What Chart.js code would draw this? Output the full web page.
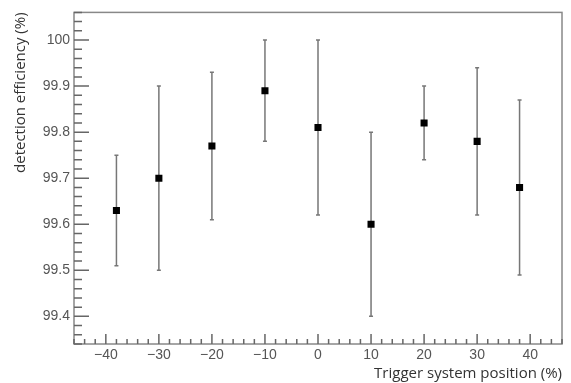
<!DOCTYPE html>
<html lang="en">
<head>
  <meta charset="UTF-8">
  <title>Detection efficiency vs trigger position</title>
  <script src="https://cdn.jsdelivr.net/npm/chart.js"></script>
  <style>
    html, body { margin: 0; padding: 0; background: #fff; }
    #wrap { width: 571px; height: 383px; }
  </style>
</head>
<body>
<div id="wrap"><canvas id="chart" width="571" height="383"></canvas></div>
<script>
// values
const positions  = [-38, -30, -20, -10, 0, 10, 20, 30, 38];
const efficiency = [99.63, 99.70, 99.77, 99.89, 99.81, 99.60, 99.82, 99.78, 99.68];
const errLow     = [99.51, 99.50, 99.61, 99.78, 99.62, 99.40, 99.74, 99.62, 99.49];
const errHigh    = [99.75, 99.90, 99.93, 100.00, 100.00, 99.80, 99.90, 99.94, 99.87];

const xTicks = [-40, -30, -20, -10, 0, 10, 20, 30, 40];
const yTicks = [99.4, 99.5, 99.6, 99.7, 99.8, 99.9, 100];

const frameColor = '#888';
const tickFont = { family: "'Liberation Sans', Arial, sans-serif", size: 14 };
const titleFont = { family: "'Open Sans', sans-serif", size: 15 };

// error bars, inward tick marks and the box around the plot
const decor = {
  id: 'decor',
  beforeDatasetsDraw(chart) {
    const ctx = chart.ctx, xs = chart.scales.x, ys = chart.scales.y;
    ctx.save();
    ctx.strokeStyle = '#777';
    ctx.lineWidth = 1.5;
    positions.forEach((p, i) => {
      const px = xs.getPixelForValue(p);
      const top = ys.getPixelForValue(errHigh[i]);
      const bot = ys.getPixelForValue(errLow[i]);
      ctx.beginPath();
      ctx.moveTo(px, top); ctx.lineTo(px, bot);
      ctx.moveTo(px - 2, top); ctx.lineTo(px + 2, top);
      ctx.moveTo(px - 2, bot); ctx.lineTo(px + 2, bot);
      ctx.stroke();
    });
    ctx.restore();
  },
  afterDraw(chart) {
    const ctx = chart.ctx, a = chart.chartArea;
    const xs = chart.scales.x, ys = chart.scales.y;
    ctx.save();
    ctx.strokeStyle = frameColor;
    ctx.lineWidth = 1.5;
    ctx.strokeRect(a.left, a.top, a.right - a.left, a.bottom - a.top);

    ctx.strokeStyle = '#666';
    ctx.beginPath();
    // x: major every 10, minor every 2
    for (let n = Math.ceil(xs.min / 2) * 2; n <= xs.max; n += 2) {
      const px = xs.getPixelForValue(n);
      const len = (n % 10 === 0) ? 10 : 5;
      ctx.moveTo(px, a.bottom); ctx.lineTo(px, a.bottom - len);
    }
    // y: major every 0.1, minor every 0.02
    const start = Math.ceil(ys.min / 0.02);
    const end = Math.floor(ys.max / 0.02);
    for (let k = start; k <= end; k++) {
      const py = ys.getPixelForValue(k * 0.02);
      const len = (k % 5 === 0) ? 15 : 8;
      ctx.moveTo(a.left, py); ctx.lineTo(a.left + len, py);
    }
    ctx.stroke();
    ctx.restore();
  }
};

new Chart(document.getElementById('chart'), {
  type: 'scatter',
  data: {
    datasets: [{
      data: positions.map((p, i) => ({ x: p, y: efficiency[i] })),
      pointStyle: 'rect',
      pointRadius: 5,
      pointHoverRadius: 5,
      backgroundColor: '#000',
      borderColor: '#000',
      borderWidth: 0
    }]
  },
  options: {
    responsive: false,
    animation: false,
    events: [],
    layout: { padding: { top: 11, right: 9, left: 0, bottom: 0 } },
    plugins: { legend: { display: false }, tooltip: { enabled: false } },
    scales: {
      x: {
        type: 'linear',
        min: -46,
        max: 46,
        afterBuildTicks: s => { s.ticks = xTicks.map(v => ({ value: v })); },
        afterFit: s => { s.height = 39; },
        grid: { display: false, drawTicks: false },
        border: { display: false },
        ticks: {
          font: tickFont, color: '#555', padding: 3, maxRotation: 0, autoSkip: false,
          callback: v => String(v).replace('-', '\u2212')
        },
        title: {
          display: true,
          text: 'Trigger system position (%)',
          align: 'end',
          color: '#333',
          font: titleFont,
          padding: { top: 0, bottom: 0 }
        }
      },
      y: {
        min: 99.34,
        max: 100.06,
        afterBuildTicks: s => { s.ticks = yTicks.map(v => ({ value: v })); },
        afterFit: s => { s.width = 74; },
        grid: { display: false, drawTicks: false },
        border: { display: false },
        ticks: {
          font: tickFont, color: '#555', padding: 4, autoSkip: false,
          callback: v => String(+v.toFixed(2))
        },
        title: {
          display: true,
          text: 'detection efficiency (%)',
          align: 'end',
          color: '#333',
          font: titleFont,
          padding: { top: 12, bottom: 0 }
        }
      }
    }
  },
  plugins: [decor]
});
</script>
</body>
</html>
